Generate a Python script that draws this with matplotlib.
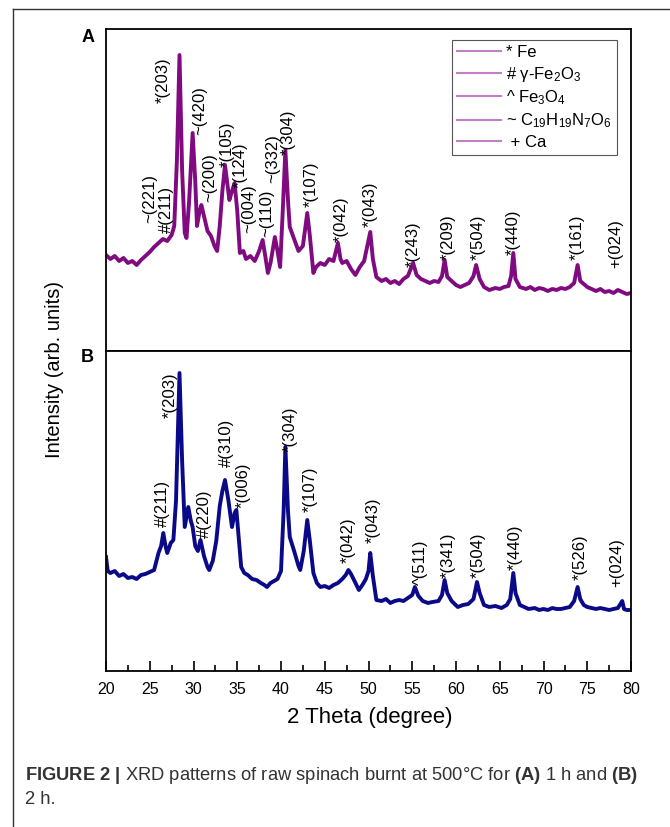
import matplotlib
matplotlib.use("Agg")
import matplotlib.pyplot as plt
from matplotlib.lines import Line2D
from matplotlib.ticker import MultipleLocator

# -----------------------------
# DATA
# -----------------------------
theta_a = [20.0, 20.5, 21.0, 21.5, 22.0, 22.5, 23.0, 23.5, 24.0, 24.5, 25.0, 25.5, 26.0, 26.5,
           27.0, 27.5, 27.8, 28.1, 28.4, 28.7, 29.0, 29.2, 29.5, 29.9, 30.2, 30.4, 30.7, 30.9,
           31.2, 31.6, 32.0, 32.4, 32.7, 33.0, 33.3, 33.6, 33.9, 34.1, 34.4, 34.7, 35.0, 35.3,
           35.7, 36.0, 36.5, 37.0, 37.5, 37.9, 38.2, 38.5, 38.8, 39.3, 39.6, 39.9, 40.2, 40.5,
           40.8, 41.0, 41.5, 42.0, 42.5, 43.0, 43.3, 43.7, 44.0, 44.5, 45.0, 45.5, 46.0, 46.5,
           46.8, 47.0, 47.5, 48.0, 48.5, 49.0, 49.5, 50.2, 50.5, 50.9, 51.5, 52.0, 52.5, 53.0,
           53.5, 54.0, 54.5, 55.1, 55.5, 56.0, 56.5, 57.0, 57.5, 58.0, 58.4, 58.7, 59.0, 59.5,
           60.0, 60.5, 61.0, 61.5, 62.0, 62.3, 62.7, 63.2, 63.8, 64.5, 65.0, 65.5, 66.0, 66.3,
           66.55, 66.8, 67.3, 68.0, 68.5, 69.0, 69.5, 70.0, 70.5, 71.0, 71.5, 72.0, 72.5, 73.0,
           73.5, 73.9, 74.2, 75.0, 75.5, 76.0, 76.5, 77.0, 77.5, 78.0, 78.5, 79.0, 79.5, 80.0]
inten_a = [96, 92, 95, 90, 93, 88, 90, 86, 91, 95, 99, 104, 108, 112,
           110, 116, 125, 190, 296, 180, 118, 113, 150, 218, 170, 125, 140, 146,
           135, 120, 115, 105, 100, 125, 160, 186, 165, 151, 160, 168, 140, 98,
           100, 92, 95, 90, 100, 111, 95, 78, 88, 114, 100, 84, 140, 201,
           150, 124, 112, 100, 105, 138, 115, 78, 84, 88, 86, 92, 90, 108,
           92, 88, 90, 82, 76, 84, 90, 119, 92, 74, 70, 72, 68, 70,
           67, 72, 75, 88, 76, 72, 70, 68, 70, 69, 75, 91, 74, 70,
           66, 64, 66, 68, 75, 86, 72, 64, 61, 63, 62, 64, 65, 75,
           98, 72, 64, 62, 64, 61, 63, 62, 60, 62, 61, 63, 62, 64,
           68, 86, 70, 64, 62, 60, 62, 59, 60, 58, 61, 59, 57, 58]

theta_b = [20.0, 20.2, 20.5, 21.0, 21.5, 22.0, 22.5, 23.0, 23.5, 24.0, 24.5, 25.0, 25.5, 26.0,
           26.3, 26.55, 26.8, 27.0, 27.4, 27.7, 28.0, 28.4, 28.7, 29.0, 29.4, 29.7, 29.9, 30.2,
           30.5, 30.8, 31.2, 31.6, 31.8, 32.2, 32.6, 33.0, 33.3, 33.6, 34.0, 34.4, 34.7, 34.9,
           35.2, 35.45, 35.8, 36.2, 36.7, 37.2, 37.7, 38.1, 38.4, 38.8, 39.2, 39.6, 40.0, 40.3,
           40.5, 40.8, 41.0, 41.5, 42.0, 42.2, 42.6, 43.0, 43.3, 43.7, 44.1, 44.5, 45.0, 45.5,
           46.0, 46.5, 47.0, 47.4, 47.7, 48.0, 48.4, 48.9, 49.3, 49.7, 50.0, 50.2, 50.5, 50.9,
           51.5, 52.0, 52.5, 53.0, 53.5, 54.0, 54.5, 55.0, 55.3, 55.7, 56.2, 56.8, 57.3, 58.0,
           58.4, 58.7, 59.0, 59.5, 60.2, 60.8, 61.4, 62.0, 62.4, 62.7, 63.2, 63.8, 64.5, 65.2,
           65.8, 66.2, 66.55, 66.8, 67.3, 67.8, 68.3, 69.0, 69.5, 70.0, 70.5, 71.0, 71.5, 72.0,
           72.5, 73.0, 73.5, 73.9, 74.2, 74.6, 75.0, 75.5, 76.0, 76.5, 77.0, 77.5, 78.0, 78.5,
           79.0, 79.2, 79.5, 80.0]
inten_b = [114, 100, 98, 100, 95, 97, 93, 94, 92, 96, 97, 99, 101, 118,
           125, 138, 125, 118, 128, 131, 170, 298, 210, 144, 164, 150, 144, 125,
           120, 131, 115, 104, 101, 110, 130, 165, 180, 191, 170, 144, 158, 161,
           130, 104, 98, 96, 92, 91, 88, 86, 84, 88, 90, 92, 100, 160,
           224, 160, 134, 120, 105, 101, 120, 151, 130, 98, 88, 84, 85, 83,
           86, 88, 92, 96, 101, 97, 90, 81, 86, 92, 100, 118, 95, 71,
           70, 72, 68, 70, 71, 70, 73, 76, 84, 75, 70, 68, 69, 70,
           76, 91, 78, 70, 64, 66, 67, 72, 89, 78, 66, 64, 65, 63,
           66, 72, 98, 78, 66, 64, 62, 63, 61, 62, 61, 63, 62, 62,
           63, 64, 70, 84, 72, 66, 64, 63, 62, 63, 62, 61, 62, 63,
           70, 62, 61, 61]

# peak labels: text, 2theta, intensity at label base
labels_a = ["~(221)", "#(211)", "*(203)", "~(420)", "~(200)", "*(105)", "*(124)", "~(004)",
            "~(110)", "~(332)", "*(304)", "*(107)", "*(042)", "*(043)", "*(243)", "*(209)",
            "*(504)", "*(440)", "*(161)", "+(024)"]
lab_x_a = [25.0, 26.9, 26.5, 30.7, 31.9, 33.8, 35.3, 36.3, 38.4, 39.1, 40.8, 43.5, 46.9, 50.2,
           55.1, 59.1, 62.55, 66.55, 73.8, 78.2]
lab_y_a = [128, 118, 248, 216, 149, 184, 163, 118, 114, 168, 196, 144, 109, 124,
           84, 91, 91, 96, 91, 83]

labels_b = ["#(211)", "*(203)", "#(220)", "#(310)", "*(006)", "*(304)", "*(107)", "*(042)",
            "*(043)", "^(511)", "*(341)", "*(504)", "*(440)", "*(526)", "+(024)"]
lab_x_b = [26.4, 27.3, 31.3, 33.8, 35.7, 41.0, 43.3, 47.7, 50.55, 55.9, 59.1, 62.55, 66.75,
           74.2, 78.4]
lab_y_b = [144, 253, 133, 204, 163, 219, 159, 108, 128, 86, 93, 93, 101, 91, 84]

legend_labels = ["* Fe", r"# γ-Fe$_2$O$_3$", r"^ Fe$_3$O$_4$",
                 r"~ C$_{19}$H$_{19}$N$_7$O$_6$", " + Ca"]

xticks = [20, 25, 30, 35, 40, 45, 50, 55, 60, 65, 70, 75, 80]

# -----------------------------
# STYLE
# -----------------------------
plt.rcParams["font.family"] = ["Liberation Sans", "DejaVu Sans"]
plt.rcParams["mathtext.fontset"] = "custom"
plt.rcParams["mathtext.rm"] = "Liberation Sans"
plt.rcParams["mathtext.it"] = "Liberation Sans"
plt.rcParams["mathtext.bf"] = "Liberation Sans:bold"

PURPLE = "#800a80"
NAVY = "#0a0a88"

W, H = 670, 827
fig = plt.figure(figsize=(W / 100, H / 100), dpi=100)


def fx(px):
    return px / W


def fy(py):
    return 1 - py / H


ax_a = fig.add_axes([fx(106), fy(351), fx(631) - fx(106), fy(29) - fy(351)])
ax_b = fig.add_axes([fx(106), fy(671), fx(631) - fx(106), fy(351) - fy(671)])

ax_a.plot(theta_a, inten_a, color=PURPLE, lw=2.8)
ax_b.plot(theta_b, inten_b, color=NAVY, lw=2.8)

for t, x, y in zip(labels_a, lab_x_a, lab_y_a):
    ax_a.text(x, y, t, rotation=90, ha="center", va="bottom", fontsize=12)
for t, x, y in zip(labels_b, lab_x_b, lab_y_b):
    ax_b.text(x, y, t, rotation=90, ha="center", va="bottom", fontsize=12)

for ax, top in ((ax_a, 322), (ax_b, 320)):
    ax.set_xlim(20, 80)
    ax.set_ylim(0, top)
    ax.set_yticks([])
    for s in ax.spines.values():
        s.set_linewidth(1.3)

ax_a.set_xticks([])
ax_b.set_xticks(xticks)
ax_b.xaxis.set_minor_locator(MultipleLocator(2.5))
ax_b.tick_params(axis="x", which="major", direction="in", length=7, width=1.2,
                 labelsize=11.5, pad=8, top=False)
ax_b.tick_params(axis="x", which="minor", direction="in", length=4, width=1.2, top=False)

handles = [Line2D([], [], color="#c27ec6", lw=1.5) for _ in legend_labels]
leg = ax_a.legend(handles, legend_labels, loc="upper right", bbox_to_anchor=(0.973, 0.966),
                  borderaxespad=0, fancybox=False, edgecolor="#555555", framealpha=1,
                  fontsize=12, handlelength=2.65, handletextpad=0.3, labelspacing=0.28,
                  borderpad=0.3)
leg.get_frame().set_linewidth(0.8)

# panel letters and axis titles
fig.text(fx(88), fy(37), "A", fontsize=13, fontweight="bold", ha="center", va="center")
fig.text(fx(87), fy(357), "B", fontsize=13, fontweight="bold", ha="center", va="center")
fig.text(fx(55), fy(369), "Intensity (arb. units)", rotation=90, fontsize=14.5,
         ha="center", va="center")
fig.text(fx(370), fy(718), "2 Theta (degree)", fontsize=16, ha="center", va="center")

# caption
fig.text(fx(25), fy(775),
         r"$\mathbf{FIGURE\ 2\ |}$ XRD patterns of raw spinach burnt at 500°C for "
         r"$\mathbf{(A)}$ 1 h and $\mathbf{(B)}$",
         fontsize=13.2, color="#333333", ha="left", va="center")
fig.text(fx(25), fy(800), "2 h.", fontsize=13.2, color="#333333", ha="left", va="center")

# outer frame
fig.add_artist(Line2D([fx(13), fx(13)], [fy(9), 0], transform=fig.transFigure,
                      color="#333333", lw=1))
fig.add_artist(Line2D([fx(13), 1], [fy(9), fy(9)], transform=fig.transFigure,
                      color="#333333", lw=1))

fig.savefig("out.png", dpi=100)
